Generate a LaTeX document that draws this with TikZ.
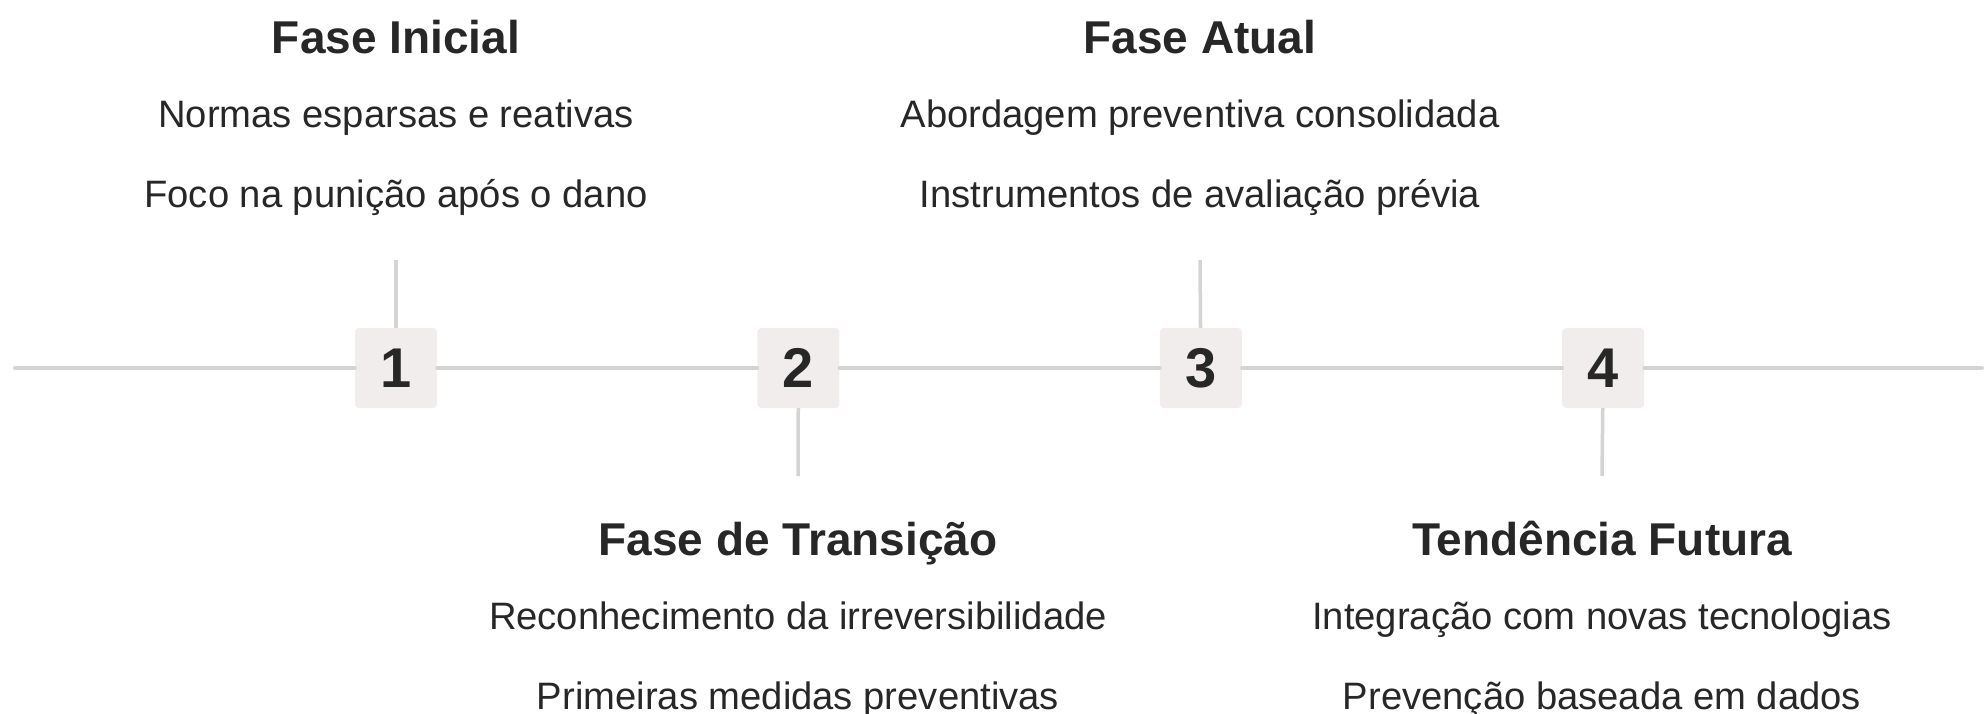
\documentclass[tikz,border=0pt]{standalone}
\usepackage{fontspec}
\setmainfont{Liberation Sans}
\usetikzlibrary{positioning}

\definecolor{boxfill}{HTML}{F0EDEC}
\definecolor{linegray}{HTML}{D6D3D3}
\definecolor{textdark}{HTML}{272727}

\begin{document}
\begin{tikzpicture}[x=1pt, y=-1pt, node distance=320pt,
  numbox/.style={fill=boxfill, rounded corners=4pt, minimum width=82pt, minimum height=80pt, inner sep=0pt, font=\fontsize{56}{60}\selectfont\bfseries, text=textdark},
  phase/.style={anchor=base, font=\fontsize{46}{50}\selectfont\bfseries, text=textdark},
  item/.style={anchor=base, font=\fontsize{38.2}{42}\selectfont, text=textdark},
  track/.style={draw=linegray, line width=4pt, line cap=round},
  tick/.style={draw=linegray, line width=3.5pt}]
\useasboundingbox (0,0) rectangle (1985,713);

% timeline ends
\coordinate (ls) at (15,368);
\coordinate (le) at (1982,368);

% numbered steps
\node[numbox] (b1) at (396,368) {1};
\node[numbox, right=of b1] (b2) {2};
\node[numbox, right=of b2] (b3) {3};
\node[numbox, right=of b3] (b4) {4};

\draw[track] (ls) -- (b1);
\draw[track] (b1) -- (b2);
\draw[track] (b2) -- (b3);
\draw[track] (b3) -- (b4);
\draw[track] (b4) -- (le);

% ticks
\coordinate (t1) at (396,260);
\coordinate (t2) at (798,476);
\coordinate (t3) at (1200,260);
\coordinate (t4) at (1602,476);
\draw[tick] (b1) -- (t1);
\draw[tick] (b2) -- (t2);
\draw[tick] (b3) -- (t3);
\draw[tick] (b4) -- (t4);

% upper labels
\node[phase] (h1) at (396,53) {Fase Inicial};
\node[item] (i1a) at (396,127) {Normas esparsas e reativas};
\node[item] (i1b) at (396,207) {Foco na punição após o dano};

\node[phase] (h3) at (1200,53) {Fase Atual};
\node[item] (i3a) at (1200,127) {Abordagem preventiva consolidada};
\node[item] (i3b) at (1200,207) {Instrumentos de avaliação prévia};

% lower labels
\node[phase] (h2) at (798,555) {Fase de Transição};
\node[item] (i2a) at (798,629) {Reconhecimento da irreversibilidade};
\node[item] (i2b) at (798,709) {Primeiras medidas preventivas};

\node[phase] (h4) at (1602,555) {Tendência Futura};
\node[item] (i4a) at (1602,629) {Integração com novas tecnologias};
\node[item] (i4b) at (1602,709) {Prevenção baseada em dados};
\end{tikzpicture}
\end{document}
